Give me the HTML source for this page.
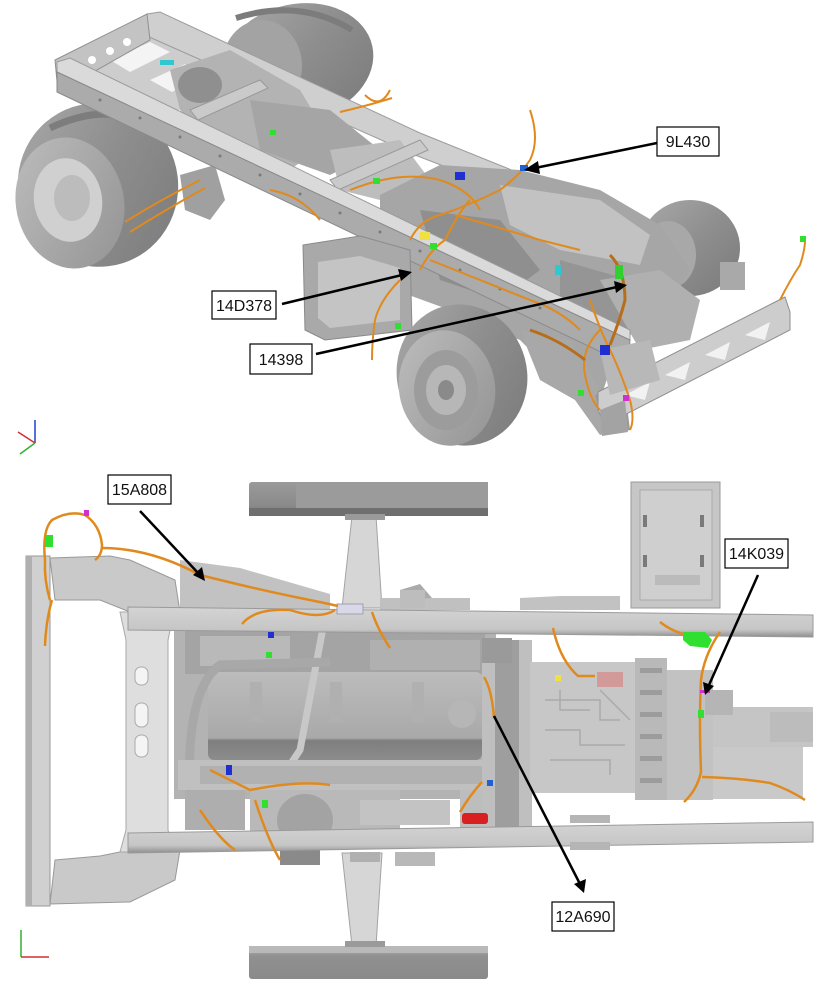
<!DOCTYPE html>
<html>
<head>
<meta charset="utf-8">
<style>
html,body{margin:0;padding:0;background:#fff;}
body{width:821px;height:989px;overflow:hidden;}
svg{display:block;}
.lbl{font-family:"Liberation Sans",sans-serif;font-size:16px;fill:#111;}
</style>
</head>
<body>
<svg width="821" height="989" viewBox="0 0 821 989" xmlns="http://www.w3.org/2000/svg">
<defs>
<linearGradient id="tire" x1="0" y1="0" x2="1" y2="1">
<stop offset="0" stop-color="#a9a9a9"/><stop offset="0.5" stop-color="#8e8e8e"/><stop offset="1" stop-color="#7a7a7a"/>
</linearGradient>
<linearGradient id="face" x1="0" y1="0" x2="1" y2="1">
<stop offset="0" stop-color="#bdbdbd"/><stop offset="1" stop-color="#939393"/>
</linearGradient>
<linearGradient id="wtop" x1="0" y1="0" x2="0" y2="1">
<stop offset="0" stop-color="#9a9a9a"/><stop offset="0.7" stop-color="#8a8a8a"/><stop offset="1" stop-color="#6f6f6f"/>
</linearGradient>
<linearGradient id="wbot" x1="0" y1="0" x2="0" y2="1">
<stop offset="0" stop-color="#b8b8b8"/><stop offset="0.3" stop-color="#909090"/><stop offset="1" stop-color="#8a8a8a"/>
</linearGradient>
<linearGradient id="rail" x1="0" y1="0" x2="0" y2="1">
<stop offset="0" stop-color="#d4d4d4"/><stop offset="0.75" stop-color="#c6c6c6"/><stop offset="1" stop-color="#8e8e8e"/>
</linearGradient>
<linearGradient id="vcov" x1="0" y1="0" x2="0" y2="1">
<stop offset="0" stop-color="#bcbcbc"/><stop offset="0.75" stop-color="#a9a9a9"/><stop offset="0.78" stop-color="#7e7e7e"/><stop offset="1" stop-color="#8c8c8c"/>
</linearGradient>
</defs>

<!-- ================= TOP ISOMETRIC VIEW ================= -->
<!-- rear far wheel -->
<ellipse cx="298" cy="62" rx="76" ry="58" transform="rotate(-12 298 62)" fill="url(#tire)"/>
<ellipse cx="262" cy="66" rx="40" ry="46" fill="#a3a3a3"/>
<path d="M236 18 Q300 -2 352 30" stroke="#7c7c7c" stroke-width="6" fill="none"/>

<!-- front far wheel -->
<ellipse cx="690" cy="248" rx="50" ry="48" fill="url(#tire)"/>
<ellipse cx="668" cy="255" rx="28" ry="34" fill="#a8a8a8"/>

<!-- rear frame interior -->
<polygon points="60,70 150,24 250,70 170,115" fill="#cdcdcd"/>
<polygon points="110,60 150,42 170,52 130,72" fill="#f4f4f4"/>
<polygon points="150,80 185,64 205,74 172,92" fill="#f4f4f4"/>

<!-- far rail -->
<polygon points="147,14 160,12 420,133 660,230 660,250 415,155 147,36" fill="#cfcfcf" stroke="#9c9c9c" stroke-width="1"/>
<!-- rear crossmember -->
<polygon points="55,60 147,14 150,40 58,92" fill="#c3c3c3" stroke="#8f8f8f" stroke-width="1"/>
<circle cx="75" cy="70" r="4" fill="#fff"/><circle cx="92" cy="60" r="4" fill="#fff"/><circle cx="110" cy="51" r="4" fill="#fff"/><circle cx="127" cy="42" r="4" fill="#fff"/>
<!-- inner frame components (rear) -->
<polygon points="170,70 230,50 300,90 330,140 290,170 220,150 180,110" fill="#b3b3b3"/>
<ellipse cx="200" cy="85" rx="22" ry="18" fill="#8f8f8f"/>
<polygon points="250,100 330,110 380,150 330,175 260,150" fill="#a5a5a5"/>
<polygon points="330,150 400,140 430,180 380,200 340,190" fill="#bdbdbd"/>
<!-- cross members -->
<polygon points="190,110 260,80 268,88 198,120" fill="#cacaca" stroke="#999" stroke-width="1"/>
<polygon points="330,180 420,140 428,150 338,190" fill="#cacaca" stroke="#999" stroke-width="1"/>

<!-- rear near wheel -->
<ellipse cx="98" cy="185" rx="80" ry="82" transform="rotate(-18 98 185)" fill="url(#tire)"/>
<ellipse cx="70" cy="203" rx="54" ry="66" transform="rotate(-12 70 203)" fill="url(#face)"/>
<ellipse cx="68" cy="200" rx="34" ry="42" transform="rotate(-10 68 200)" fill="#d0d0d0"/>
<ellipse cx="72" cy="198" rx="18" ry="23" fill="#bcbcbc"/>
<path d="M50 128 Q120 95 165 140" stroke="#7d7d7d" stroke-width="7" fill="none"/>

<!-- rear suspension hanger -->
<polygon points="180,175 215,165 225,200 210,220 185,210" fill="#a0a0a0"/>

<!-- engine mass -->
<polygon points="380,195 440,165 520,170 600,190 660,225 690,270 660,320 620,340 600,400 560,380 520,340 450,310 395,290 380,250" fill="#a6a6a6"/>
<polygon points="500,185 600,200 650,235 640,265 560,250 510,225" fill="#c2c2c2"/>
<polygon points="420,210 500,220 540,270 500,300 440,280" fill="#8f8f8f"/>
<polygon points="560,260 630,280 640,330 590,330 560,300" fill="#959595"/>
<polygon points="600,280 660,270 700,300 690,340 640,350" fill="#b0b0b0"/>

<!-- near rail -->
<polygon points="57,62 70,58 630,330 630,340 57,72" fill="#dadada" stroke="#9a9a9a" stroke-width="1"/>
<polygon points="57,72 630,340 628,365 57,92" fill="#ababab" stroke="#8a8a8a" stroke-width="1"/>
<g fill="#7a7a7a">
<circle cx="100" cy="100" r="1.5"/><circle cx="140" cy="118" r="1.5"/><circle cx="180" cy="137" r="1.5"/><circle cx="220" cy="156" r="1.5"/><circle cx="260" cy="175" r="1.5"/><circle cx="300" cy="194" r="1.5"/><circle cx="340" cy="213" r="1.5"/><circle cx="380" cy="232" r="1.5"/><circle cx="420" cy="251" r="1.5"/><circle cx="460" cy="270" r="1.5"/><circle cx="500" cy="289" r="1.5"/><circle cx="540" cy="308" r="1.5"/>
</g>

<!-- cab mount box -->
<polygon points="303,245 360,236 410,250 412,330 325,340 305,330" fill="#a9a9a9" stroke="#8a8a8a" stroke-width="1"/>
<polygon points="318,262 360,256 400,268 400,320 330,328 318,318" fill="#c4c4c4"/>

<!-- front suspension -->
<polygon points="520,330 570,340 600,390 620,430 600,435 575,400 540,380" fill="#a8a8a8"/>
<polygon points="595,395 625,390 630,430 605,435" fill="#9a9a9a"/>

<!-- front near wheel -->
<ellipse cx="462" cy="375" rx="65" ry="71" transform="rotate(-15 462 375)" fill="url(#tire)"/>
<ellipse cx="447" cy="388" rx="48" ry="58" transform="rotate(-10 447 388)" fill="url(#face)"/>
<ellipse cx="446" cy="390" rx="32" ry="40" fill="#9c9c9c"/>
<ellipse cx="446" cy="390" rx="20" ry="25" fill="#b7b7b7"/>
<ellipse cx="446" cy="390" rx="8" ry="10" fill="#8a8a8a"/>

<!-- front bumper crossmember -->
<polygon points="598,392 785,297 790,312 790,330 605,425 598,410" fill="#cdcdcd" stroke="#8e8e8e" stroke-width="1"/>
<g fill="#f2f2f2">
<polygon points="625,395 650,382 645,400"/><polygon points="665,375 690,362 685,380"/><polygon points="705,355 730,342 725,360"/><polygon points="745,335 770,322 765,340"/>
</g>
<polygon points="600,350 650,340 660,380 610,395" fill="#b8b8b8"/>
<polygon points="720,262 745,262 745,290 720,290" fill="#a9a9a9"/>
<polygon points="600,410 625,400 628,432 602,436" fill="#a3a3a3"/>

<!-- top wires (orange) -->
<g stroke="#e08a1e" stroke-width="2" fill="none">
<path d="M125 222 Q160 200 200 180"/><path d="M130 232 Q165 210 205 188"/>
<path d="M365 95 Q380 110 390 90"/><path d="M340 112 Q370 105 392 98"/>
<path d="M270 190 Q300 195 320 220"/>
<path d="M350 190 Q400 170 440 180 Q470 190 480 210"/>
<path d="M410 240 Q420 220 440 215 Q470 205 500 190 Q520 175 530 160 Q540 140 530 110"/>
<path d="M420 270 Q430 250 445 240 Q460 210 470 200"/>
<path d="M400 280 Q380 300 375 320 Q372 340 372 360"/>
<path d="M430 260 Q480 280 530 300 Q560 310 580 330"/>
<path d="M590 300 Q600 330 610 350 Q620 370 630 400 Q635 420 630 430"/>
<path d="M600 330 Q580 350 585 375 Q590 400 600 410"/>
<path d="M780 300 Q790 280 800 265 Q805 250 805 240"/>
<path d="M455 215 Q490 225 540 240 Q560 245 580 250"/>
</g>
<g stroke="#b76e1a" stroke-width="3" fill="none">
<path d="M610 255 Q625 270 625 300 Q620 320 610 345"/>
<path d="M530 330 Q560 340 585 360"/>
</g>
<g>
<rect x="420" y="232" width="10" height="8" fill="#f0e040"/>
<rect x="455" y="172" width="10" height="8" fill="#2030d0"/>
<rect x="373" y="178" width="7" height="6" fill="#30e030"/>
<rect x="430" y="243" width="7" height="6" fill="#30e030"/>
<rect x="600" y="345" width="10" height="10" fill="#2030d0"/>
<rect x="615" y="265" width="8" height="14" fill="#30d030"/>
<rect x="520" y="165" width="8" height="6" fill="#2060d0"/>
<rect x="270" y="130" width="6" height="5" fill="#30e030"/>
<rect x="160" y="60" width="14" height="5" fill="#30c8d0"/>
<rect x="555" y="265" width="6" height="10" fill="#30c8d0"/>
<rect x="800" y="236" width="6" height="6" fill="#30e030"/>
<rect x="578" y="390" width="6" height="6" fill="#30e030"/>
<rect x="623" y="395" width="6" height="6" fill="#d030d0"/>
<rect x="395" y="323" width="6" height="6" fill="#30e030"/>
</g>

<!-- top axes icon -->
<g stroke-width="1.5">
<line x1="35" y1="443" x2="35" y2="420" stroke="#2040d0"/>
<line x1="35" y1="443" x2="18" y2="432" stroke="#d03030"/>
<line x1="35" y1="443" x2="20" y2="454" stroke="#30b030"/>
</g>

<!-- ================= BOTTOM PLAN VIEW ================= -->
<rect x="249" y="482" width="239" height="34" rx="3" fill="url(#wtop)"/>
<rect x="296" y="482" width="192" height="26" fill="#9b9b9b"/>
<rect x="249" y="508" width="239" height="8" fill="#6f6f6f"/>
<rect x="249" y="946" width="239" height="33" rx="3" fill="url(#wbot)"/>
<rect x="249" y="946" width="239" height="7" fill="#b9b9b9"/>
<polygon points="352,516 376,516 382,608 342,608" fill="#d6d6d6" stroke="#a3a3a3" stroke-width="1"/>
<polygon points="342,853 382,853 376,946 352,946" fill="#d6d6d6" stroke="#a3a3a3" stroke-width="1"/>
<rect x="345" y="514" width="40" height="6" fill="#9a9a9a"/>
<rect x="345" y="941" width="40" height="6" fill="#9a9a9a"/>

<!-- battery box -->
<rect x="631" y="482" width="89" height="126" fill="#c6c6c6" stroke="#9a9a9a" stroke-width="1"/>
<rect x="640" y="490" width="72" height="110" fill="#cfcfcf" stroke="#ababab" stroke-width="1"/>
<rect x="643" y="515" width="4" height="12" fill="#7a7a7a"/><rect x="700" y="515" width="4" height="12" fill="#7a7a7a"/>
<rect x="643" y="555" width="4" height="12" fill="#7a7a7a"/><rect x="700" y="555" width="4" height="12" fill="#7a7a7a"/>
<rect x="655" y="575" width="45" height="10" fill="#bbbbbb"/>

<!-- left outer crossmember -->
<rect x="26" y="556" width="24" height="350" fill="#d0d0d0" stroke="#999" stroke-width="1"/>
<rect x="26" y="556" width="6" height="350" fill="#b0b0b0"/>
<polygon points="50,558 110,556 130,560 175,580 180,612 130,612 100,600 55,600" fill="#c9c9c9" stroke="#999" stroke-width="1"/>
<polygon points="55,860 100,856 130,850 180,850 175,880 130,902 50,904" fill="#c9c9c9" stroke="#999" stroke-width="1"/>
<polygon points="120,612 174,612 168,640 168,830 174,852 120,852 126,830 126,640" fill="#dedede" stroke="#a8a8a8" stroke-width="1"/>
<rect x="135" y="667" width="13" height="18" rx="6" fill="#f4f4f4" stroke="#aaa"/>
<rect x="135" y="703" width="13" height="24" rx="6" fill="#f4f4f4" stroke="#aaa"/>
<rect x="135" y="735" width="13" height="22" rx="6" fill="#f4f4f4" stroke="#aaa"/>
<polygon points="180,560 240,568 330,594 330,610 180,610" fill="#c2c2c2"/>
<polygon points="380,598 470,598 470,610 380,610" fill="#c0c0c0"/>
<polygon points="400,590 420,584 432,598 400,600" fill="#aaa"/>
<polygon points="520,598 560,596 620,596 620,610 520,610" fill="#c2c2c2"/>

<!-- engine block -->
<rect x="174" y="623" width="322" height="176" fill="#b3b3b3"/>
<rect x="185" y="630" width="300" height="44" fill="#a4a4a4"/>
<rect x="200" y="636" width="90" height="30" fill="#b9b9b9"/>
<rect x="370" y="640" width="110" height="30" fill="#b0b0b0"/>
<rect x="208" y="672" width="274" height="88" rx="6" fill="url(#vcov)"/>
<rect x="250" y="682" width="12" height="40" fill="#b0b0b0"/>
<rect x="330" y="682" width="12" height="40" fill="#b0b0b0"/>
<rect x="412" y="682" width="12" height="40" fill="#b0b0b0"/>
<circle cx="462" cy="714" r="14" fill="#b6b6b6"/>
<path d="M326 612 L300 750 L290 765" stroke="#c8c8c8" stroke-width="7" fill="none"/>
<path d="M190 800 Q185 690 220 665 L330 662" stroke="#a8a8a8" stroke-width="9" fill="none"/>
<rect x="178" y="760" width="318" height="30" fill="#c0c0c0"/>
<rect x="200" y="766" width="290" height="18" fill="#b1b1b1"/>
<rect x="250" y="790" width="150" height="45" fill="#b9b9b9"/>
<ellipse cx="305" cy="820" rx="28" ry="26" fill="#a3a3a3"/>
<rect x="360" y="800" width="90" height="25" fill="#c3c3c3"/>
<rect x="460" y="790" width="30" height="40" fill="#bdbdbd"/>
<rect x="185" y="790" width="60" height="40" fill="#aeaeae"/>
<rect x="280" y="845" width="40" height="20" fill="#8a8a8a"/>

<!-- bell housing -->
<rect x="482" y="640" width="50" height="195" fill="#bfbfbf"/>
<rect x="495" y="640" width="24" height="190" fill="#9e9e9e"/>
<rect x="482" y="638" width="30" height="25" fill="#9a9a9a"/>
<!-- transmission -->
<rect x="530" y="662" width="108" height="131" fill="#c7c7c7"/>
<g stroke="#aaaaaa" stroke-width="1.5" fill="none">
<path d="M545 700 H600 V720 H620"/><path d="M545 730 H580 V745 H625"/><path d="M550 760 H610 V775"/><path d="M560 690 V710 H590"/><path d="M600 690 L630 720"/>
</g>
<rect x="597" y="672" width="26" height="15" fill="#d39a9a"/>
<rect x="635" y="658" width="32" height="142" fill="#b9b9b9"/>
<g fill="#9c9c9c"><rect x="640" y="668" width="22" height="5"/><rect x="640" y="690" width="22" height="5"/><rect x="640" y="712" width="22" height="5"/><rect x="640" y="734" width="22" height="5"/><rect x="640" y="756" width="22" height="5"/><rect x="640" y="778" width="22" height="5"/></g>
<rect x="667" y="670" width="46" height="130" fill="#c2c2c2"/>
<rect x="713" y="707" width="100" height="40" fill="#c5c5c5"/>
<rect x="770" y="712" width="43" height="30" fill="#bcbcbc"/>
<rect x="713" y="747" width="90" height="52" fill="#c9c9c9"/>
<rect x="705" y="690" width="28" height="25" fill="#b5b5b5"/>

<!-- frame rails -->
<polygon points="128,607 813,615 813,637 128,630" fill="url(#rail)" stroke="#9a9a9a" stroke-width="1"/>
<polygon points="128,833 813,822 813,842 128,853" fill="url(#rail)" stroke="#9a9a9a" stroke-width="1"/>
<rect x="350" y="852" width="30" height="10" fill="#b0b0b0"/>
<rect x="395" y="852" width="40" height="14" fill="#b8b8b8"/>
<rect x="570" y="815" width="40" height="8" fill="#b5b5b5"/>
<rect x="570" y="842" width="40" height="8" fill="#b5b5b5"/>
<rect x="337" y="604" width="26" height="10" fill="#d8d8e8" stroke="#a0a0b0"/>
<rect x="400" y="590" width="25" height="18" fill="#bdbdbd"/>

<rect x="462" y="813" width="26" height="11" rx="3" fill="#d92020"/>
<path d="M683 632 L705 632 L712 640 L708 648 L690 646 L683 640 Z" fill="#30e030"/>

<g stroke="#e08a1e" stroke-width="2.5" fill="none">
<path d="M50 600 Q44 580 45 560 Q42 530 52 520 Q70 510 85 515 Q100 525 102 545 Q102 555 95 560"/>
<path d="M102 548 Q150 548 200 575 Q260 590 300 598 Q325 603 338 606"/>
<path d="M52 600 Q46 620 45 646"/>
<path d="M242 624 Q255 608 290 610 Q320 620 335 610"/>
<path d="M372 612 Q378 630 390 648"/>
<path d="M210 770 Q230 780 250 790 Q300 780 330 785"/>
<path d="M200 810 Q220 840 235 850"/>
<path d="M255 800 Q268 840 280 860"/>
<path d="M484 677 Q492 690 494 718"/>
<path d="M460 812 Q470 795 482 782"/>
<path d="M553 628 Q560 660 578 676 L595 676"/>
<path d="M720 632 Q704 655 701 680 Q699 720 701 772 Q697 790 684 802"/>
<path d="M702 777 Q740 778 770 783 Q790 790 805 800"/>
<path d="M660 622 Q670 630 683 634"/>
</g>
<g>
<rect x="45" y="535" width="8" height="12" fill="#30e030"/>
<rect x="84" y="510" width="5" height="6" fill="#d030d0"/>
<rect x="268" y="632" width="6" height="6" fill="#2030d0"/>
<rect x="266" y="652" width="6" height="6" fill="#30e030"/>
<rect x="226" y="765" width="6" height="10" fill="#2030d0"/>
<rect x="262" y="800" width="6" height="8" fill="#30e030"/>
<rect x="487" y="780" width="6" height="6" fill="#2060d0"/>
<rect x="698" y="710" width="6" height="8" fill="#30e030"/>
<rect x="700" y="690" width="10" height="3" fill="#d030d0"/>
<rect x="555" y="675" width="6" height="6" fill="#f0e040"/>
</g>

<g stroke-width="1.5">
<line x1="21" y1="957" x2="21" y2="930" stroke="#30b030"/>
<line x1="21" y1="957" x2="49" y2="957" stroke="#d03030"/>
</g>

<!-- ================= CALLOUTS ================= -->
<g stroke="#000" stroke-width="2.5" fill="none">
<line x1="657" y1="143" x2="535" y2="168"/>
<line x1="282" y1="304" x2="402" y2="275"/>
<line x1="316" y1="354" x2="617" y2="287"/>
<line x1="140" y1="511" x2="199" y2="574"/>
<line x1="758" y1="575" x2="709" y2="685"/>
<line x1="494" y1="716" x2="580" y2="884"/>
</g>
<g fill="#000">
<polygon points="524,170 538,161 540,174"/>
<polygon points="412,272 398,269 401,281"/>
<polygon points="627,285 614,281 616,293"/>
<polygon points="205,581 193,575 202,567"/>
<polygon points="705,695 703,682 714,686"/>
<polygon points="584,893 574,884 586,879"/>
</g>

<g fill="#fff" stroke="#000" stroke-width="1.2">
<rect x="657" y="127" width="62" height="29"/>
<rect x="212" y="291" width="64" height="28"/>
<rect x="250" y="344" width="62" height="30"/>
<rect x="108" y="475" width="63" height="29"/>
<rect x="725" y="539" width="63" height="29"/>
<rect x="552" y="902" width="62" height="29"/>
</g>
<text class="lbl" x="688" y="147" text-anchor="middle">9L430</text>
<text class="lbl" x="244" y="311" text-anchor="middle">14D378</text>
<text class="lbl" x="281" y="365" text-anchor="middle">14398</text>
<text class="lbl" x="139.5" y="495" text-anchor="middle">15A808</text>
<text class="lbl" x="756.5" y="559" text-anchor="middle">14K039</text>
<text class="lbl" x="583" y="922" text-anchor="middle">12A690</text>
</svg>
</body>
</html>
